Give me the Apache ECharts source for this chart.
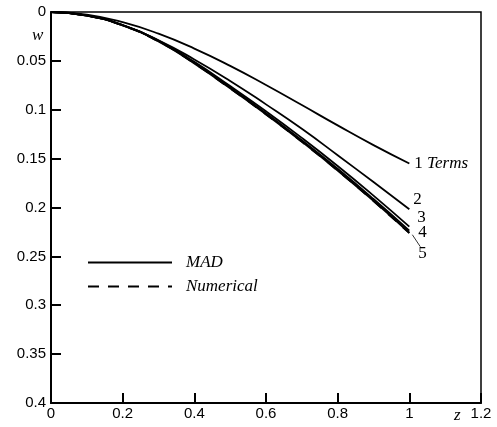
<!DOCTYPE html>
<html><head><meta charset="utf-8">
<script src="https://cdn.jsdelivr.net/npm/echarts@6/dist/echarts.min.js"></script>
<style>html,body{margin:0;padding:0;background:#fff}#c{width:497px;height:427px}</style>
</head><body><div id="c"></div>
<script>
const zValues = [0, 0.1, 0.2, 0.3, 0.4, 0.5, 0.6, 0.7, 0.8, 0.9, 1.0];
const mad1 = [0, 0.0027, 0.0104, 0.0222, 0.0374, 0.0551, 0.0747, 0.0952, 0.1160, 0.1362, 0.1550];
const mad2 = [0, 0.0035, 0.0135, 0.0290, 0.0485, 0.0705, 0.0945, 0.1195, 0.1465, 0.1740, 0.2018];
const mad3 = [0, 0.0036, 0.0133, 0.0292, 0.0510, 0.0758, 0.1016, 0.1288, 0.1575, 0.1878, 0.2195];
const mad4 = [0, 0.0037, 0.0136, 0.0297, 0.0520, 0.0772, 0.1035, 0.1312, 0.1604, 0.1913, 0.2237];
const mad5 = [0, 0.0037, 0.0137, 0.0300, 0.0525, 0.0780, 0.1045, 0.1325, 0.1620, 0.1932, 0.2258];
const numerical = [0, 0.0037, 0.0138, 0.0302, 0.0527, 0.0783, 0.1048, 0.1328, 0.1623, 0.1935, 0.2262];
const curveLabels = ['1 {i|Terms}', '2', '3', '4', '5'];
const xTicks = [0, 0.2, 0.4, 0.6, 0.8, 1, 1.2];
const yTicks = [0, 0.05, 0.1, 0.15, 0.2, 0.25, 0.3, 0.35, 0.4];

const pair = arr => zValues.map((z, i) => [z, arr[i]]);
const serif = '"Liberation Serif", "DejaVu Serif", serif';
const sans = '"Liberation Sans", Arial, sans-serif';
const labelOffsets = [[2, 0], [1, -10], [5, -9], [6, 2], [6, 21]];
const madSets = [mad1, mad2, mad3, mad4, mad5];
const widths = [1.8, 1.8, 1.8, 1.8, 2];

const series = madSets.map((d, k) => ({
  name: 'MAD', type: 'line', data: pair(d), smooth: 0.5, symbol: 'none',
  lineStyle: { color: '#000', width: widths[k], type: 'solid' },
  itemStyle: { color: '#000' },
  endLabel: {
    show: true, formatter: curveLabels[k], color: '#000', distance: 3,
    offset: labelOffsets[k],
    fontFamily: serif, fontSize: 17,
    rich: { i: { fontFamily: serif, fontStyle: 'italic', fontSize: 17, color: '#000' } }
  },
  animation: false, z: 3
}));
series.push({
  name: 'Numerical', type: 'line', data: pair(numerical), smooth: 0.5, symbol: 'none',
  lineStyle: { color: '#000', width: 1.8, type: [11, 9] },
  itemStyle: { color: '#000' }, animation: false, z: 2
});

const labelGraphics = [
  { type: 'text', left: 32, top: 27, style: { text: 'w', font: 'italic 17px ' + serif, fill: '#000' } },
  { type: 'text', left: 454, top: 407, style: { text: 'z', font: 'italic 17px ' + serif, fill: '#000' } }
];

const chart = echarts.init(document.getElementById('c'), null, { renderer: 'canvas' });
chart.setOption({
  animation: false,
  backgroundColor: '#fff',
  grid: { left: 51, right: 16, top: 12, bottom: 24, show: true, borderColor: '#000', borderWidth: 1.5, backgroundColor: 'transparent' },
  xAxis: {
    type: 'value', min: xTicks[0], max: xTicks[xTicks.length - 1], interval: 0.2,
    axisLine: { show: true, onZero: false, lineStyle: { color: '#000', width: 2 } },
    axisTick: { show: true, inside: true, length: 10, lineStyle: { color: '#000', width: 2 } },
    axisLabel: { color: '#000', fontFamily: sans, fontSize: 15, margin: 3 },
    splitLine: { show: false }
  },
  yAxis: {
    type: 'value', inverse: true, min: yTicks[0], max: yTicks[yTicks.length - 1], interval: 0.05,
    axisLine: { show: true, onZero: false, lineStyle: { color: '#000', width: 2 } },
    axisTick: { show: true, inside: true, length: 10, lineStyle: { color: '#000', width: 2 } },
    axisLabel: { color: '#000', fontFamily: sans, fontSize: 15, margin: 5 },
    splitLine: { show: false }
  },
  legend: {
    show: true, orient: 'vertical', left: 87, top: 254, padding: 0,
    itemWidth: 84, itemHeight: 16, itemGap: 7,
    data: ['MAD', 'Numerical'],
    itemStyle: { color: 'rgba(0,0,0,0)', borderColor: 'rgba(0,0,0,0)', borderWidth: 0, opacity: 0 },
    textStyle: { fontFamily: serif, fontStyle: 'italic', fontSize: 17, lineHeight: 16, color: '#000', padding: [0, 0, 0, 9] },
    selectedMode: false
  },
  series: series,
  graphic: labelGraphics
});
// leader line for label 5
const p0 = chart.convertToPixel({ gridIndex: 0 }, [zValues[zValues.length - 1], mad5[mad5.length - 1]]);
chart.setOption({
  graphic: labelGraphics.concat([
    { type: 'line', shape: { x1: p0[0] + 3, y1: p0[1] + 2, x2: p0[0] + 11, y2: p0[1] + 14 }, style: { stroke: '#000', lineWidth: 0.8 } }
  ])
});
</script></body></html>
